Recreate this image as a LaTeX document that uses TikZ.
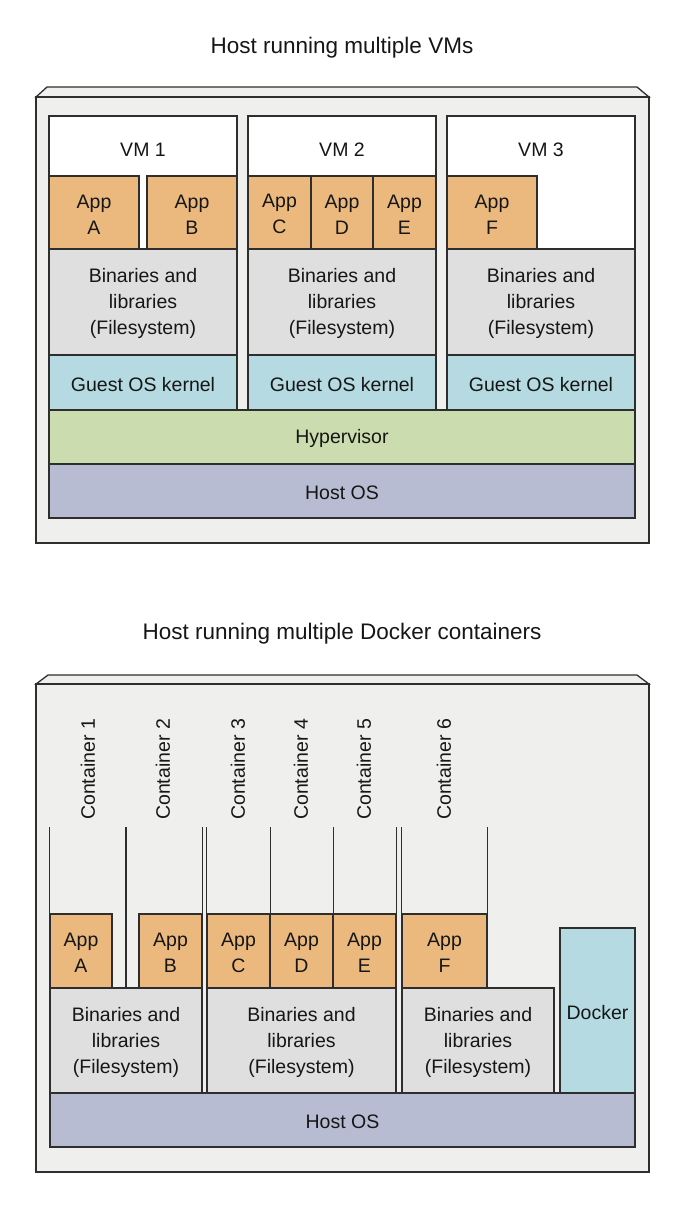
\documentclass[tikz,border=0pt]{standalone}
\usepackage{fontspec}
\setmainfont{Liberation Sans}
\definecolor{linec}{HTML}{2E2E2E}
\definecolor{outerfill}{HTML}{EFEFEE}
\definecolor{appc}{HTML}{EBB97E}
\definecolor{binc}{HTML}{DFDFDF}
\definecolor{kernc}{HTML}{B5DAE1}
\definecolor{hypc}{HTML}{CBDDAF}
\definecolor{hostc}{HTML}{B7BCD3}
\definecolor{txtc}{HTML}{161616}
\newcommand\mybox[7]{\node[blk,fill=#2,minimum width={#5-#3},minimum height={#6-#4}] (#1) at ({(#3+#5)/2},{(#4+#6)/2}) {};
  \node[btxt] (#1t) at ([yshift=-1.8pt]#1.center) {#7};}
\begin{document}
\begin{tikzpicture}[x=1pt,y=-1pt,
  blk/.style={draw=linec,line width=1.3pt,inner sep=0pt},
  btxt/.style={inner sep=0pt,align=center,text=txtc,font=\fontsize{19.5}{26}\selectfont},
  outer/.style={draw=linec,line width=1.3pt,fill=outerfill,line join=miter},
  title/.style={font=\fontsize{22.5}{27}\selectfont,text=txtc},
  clabel/.style={rotate=90,anchor=west,inner sep=0pt,font=\fontsize{19.5}{24}\selectfont,text=txtc},
  cline/.style={draw=linec,line width=1.3pt}]
\useasboundingbox (0,0) rectangle (688,1208);

% ---------- Top: VMs ----------
\node[title] (t1) at (342,48) {Host running multiple VMs};
\draw[outer] (36,97) -- (47,87) -- (637,87) -- (649,97) -- cycle;
\draw[outer] (36,97) rectangle (649,543);

\mybox{vm1}{white}{49}{116}{237}{410}{}
\mybox{vm2}{white}{248}{116}{436}{410}{}
\mybox{vm3}{white}{447}{116}{635}{410}{}
\node[btxt] (vm1l) at (143,150) {VM 1};
\node[btxt] (vm2l) at (342,150) {VM 2};
\node[btxt] (vm3l) at (541,150) {VM 3};

\mybox{a1}{appc}{49}{176}{139}{249}{App\\A}
\mybox{b1}{appc}{147}{176}{237}{249}{App\\B}
\mybox{c1}{appc}{248}{176}{311}{249}{App\\C}
\mybox{d1}{appc}{311}{176}{373}{249}{App\\D}
\mybox{e1}{appc}{373}{176}{436}{249}{App\\E}
\mybox{f1}{appc}{447}{176}{537}{249}{App\\F}

\mybox{bin11}{binc}{49}{249}{237}{355}{Binaries and\\libraries\\(Filesystem)}
\mybox{bin12}{binc}{248}{249}{436}{355}{Binaries and\\libraries\\(Filesystem)}
\mybox{bin13}{binc}{447}{249}{635}{355}{Binaries and\\libraries\\(Filesystem)}

\mybox{k1}{kernc}{49}{355}{237}{410}{Guest OS kernel}
\mybox{k2}{kernc}{248}{355}{436}{410}{Guest OS kernel}
\mybox{k3}{kernc}{447}{355}{635}{410}{Guest OS kernel}

\mybox{hyp}{hypc}{49}{410}{635}{464}{Hypervisor}
\mybox{host1}{hostc}{49}{464}{635}{518}{Host OS}

% ---------- Bottom: containers ----------
\node[title] (t2) at (342,634) {Host running multiple Docker containers};
\draw[outer] (36,684) -- (48,675) -- (637,675) -- (649,684) -- cycle;
\draw[outer] (36,684) rectangle (649,1172);

\coordinate (ctop) at (0,827);

\mybox{a2}{appc}{50}{914}{112}{988}{App\\A}
\mybox{b2}{appc}{139}{914}{202}{988}{App\\B}
\mybox{c2}{appc}{207}{914}{270}{988}{App\\C}
\mybox{d2}{appc}{270}{914}{333}{988}{App\\D}
\mybox{e2}{appc}{333}{914}{396}{988}{App\\E}
\mybox{f2}{appc}{402}{914}{487}{988}{App\\F}

\mybox{bin21}{binc}{50}{988}{202}{1093}{Binaries and\\libraries\\(Filesystem)}
\mybox{bin22}{binc}{207}{988}{396}{1093}{Binaries and\\libraries\\(Filesystem)}
\mybox{bin23}{binc}{402}{988}{554}{1093}{Binaries and\\libraries\\(Filesystem)}
\mybox{dock}{kernc}{560}{928}{635}{1093}{Docker}
\mybox{host2}{hostc}{50}{1093}{635}{1147}{Host OS}

\draw[cline] (a2.north west) -- (a2.north west |- ctop);
\draw[cline] (bin21.north) -- (bin21.north |- ctop);
\draw[cline] (bin21.north east) -- (bin21.north east |- ctop);
\draw[cline] (bin22.north west) -- (bin22.north west |- ctop);
\draw[cline] (c2.north east) -- (c2.north east |- ctop);
\draw[cline] (d2.north east) -- (d2.north east |- ctop);
\draw[cline] (bin22.north east) -- (bin22.north east |- ctop);
\draw[cline] (bin23.north west) -- (bin23.north west |- ctop);
\draw[cline] (f2.north east) -- (f2.north east |- ctop);

\node[clabel] (cl1) at (88,820) {Container 1};
\node[clabel] (cl2) at (163,820) {Container 2};
\node[clabel] (cl3) at (238,820) {Container 3};
\node[clabel] (cl4) at (301,820) {Container 4};
\node[clabel] (cl5) at (364,820) {Container 5};
\node[clabel] (cl6) at (444,820) {Container 6};
\end{tikzpicture}
\end{document}
